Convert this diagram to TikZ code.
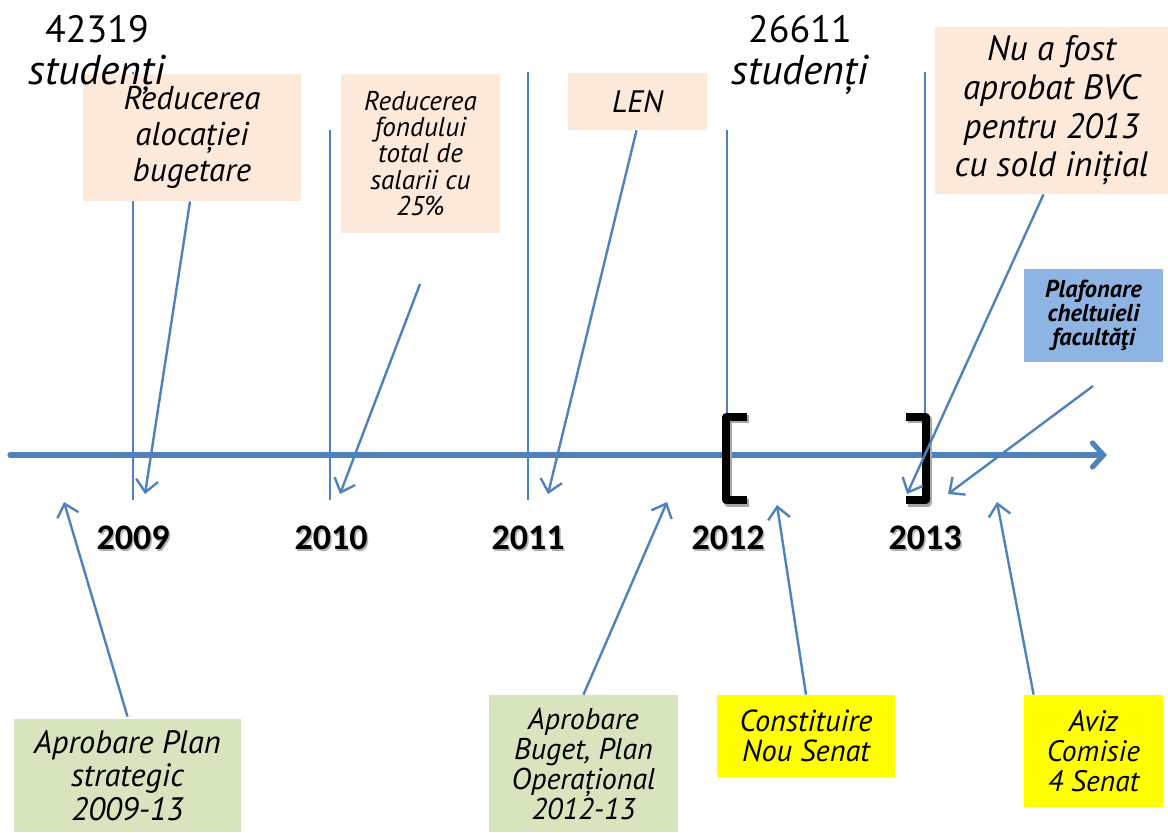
\documentclass[tikz,border=0pt]{standalone}
\usepackage{fontspec}
\setmainfont{PT Sans}
\newfontfamily\yearfont{Carlito}
\usetikzlibrary{arrows.meta,calc}
\definecolor{axisblue}{HTML}{4F81BD}
\definecolor{peach}{HTML}{FDE9D9}
\definecolor{sage}{HTML}{D7E4BD}
\definecolor{skyb}{HTML}{8EB4E3}
\definecolor{yel}{HTML}{FFFF00}
\tikzset{
  box/.style={inner sep=0pt, align=center},
  fz/.style n args={2}{font=\itshape\fontsize{#1}{#2}\selectfont},
  tick/.style={draw=axisblue, line width=1pt},
  conn/.style={draw=axisblue, line width=1.2pt, -{Straight Barb[length=6pt,width=11pt]}},
  yearlbl/.style={font=\yearfont\bfseries\fontsize{18}{20}\selectfont, inner sep=0pt},
  bracketpath/.style={line width=3.6pt, line cap=butt, line join=round},
}
\begin{document}
\begin{tikzpicture}[x=0.5pt,y=-0.5pt]
\useasboundingbox (0,0) rectangle (1168,832);
% vertical ticks
\draw[tick] (133,72) -- (133,500);
\draw[tick] (330,130) -- (330,500);
\draw[tick] (528,72) -- (528,500);
\draw[tick] (727,130) -- (727,415);
\draw[tick] (925,72) -- (925,417);
% main axis
\draw[axisblue, line width=2.6pt, line cap=round, -{Straight Barb[length=5.5pt,width=12pt,line cap=round]}] (10,455) -- (1107,455);
% brackets with shadow
\draw[gray!70, bracketpath] (749,419) -- (728,419) -- (728,503) -- (749,503);
\draw[black, bracketpath] (747,417) -- (726,417) -- (726,500) -- (747,500);
\draw[gray!70, bracketpath] (908,419) -- (928,419) -- (928,503) -- (908,503);
\draw[black, bracketpath] (906,417) -- (926,417) -- (926,500) -- (906,500);
% year labels
\foreach \x/\yr in {133/2009,331/2010,528/2011,728/2012,925/2013}{
  \node[yearlbl, text=gray!60] at (\x+1.5,539.5) {\yr};
  \node[yearlbl] (y\yr) at (\x,538) {\yr};
}
% top boxes
\node[box, fill=peach, minimum width=109pt, minimum height=63.5pt, fz={16.5}{18}] (b1) at (192,137.5) {Reducerea\\alocației\\bugetare};
\node[box, fill=peach, minimum width=79.5pt, minimum height=79.5pt, fz={13.6}{13.2}] (b2) at (420.5,153.5) {Reducerea\\fondului\\total de\\salarii cu\\25\%};
\node[box, fill=peach, minimum width=69.5pt, minimum height=28.5pt, fz={15.5}{18}] (len) at (637.5,101.5) {LEN};
\node[box, fill=peach, minimum width=116.5pt, minimum height=83.5pt, fz={17.6}{19.4}] (bvc) at (1051.5,110.5) {Nu a fost\\aprobat BVC\\pentru 2013\\cu sold inițial};
\node[box, fill=skyb, minimum width=69.5pt, minimum height=46.5pt, font=\bfseries\itshape\fontsize{12.2}{12}\selectfont] (plaf) at (1093.5,315.5) {Plafonare\\cheltuieli\\facultăţi};
% student counts
\node[font=\fontsize{19}{22}\selectfont, inner sep=0pt] (n1) at (97,29) {42319};
\node[font=\itshape\fontsize{20.8}{22}\selectfont, inner sep=0pt] (s1) at (97,75) {studenți};
\node[font=\fontsize{19}{22}\selectfont, inner sep=0pt] (n2) at (800,29) {26611};
\node[font=\itshape\fontsize{20.8}{22}\selectfont, inner sep=0pt] (s2) at (800,75) {studenți};
% bottom boxes
\node[box, fill=sage, minimum width=113.5pt, minimum height=56.5pt, fz={16.2}{16.8}] (ps) at (127.5,775.5) {Aprobare Plan\\strategic\\2009-13};
\node[box, fill=sage, minimum width=94.5pt, minimum height=68.5pt, fz={15}{15}] (bug) at (583.5,763.5) {Aprobare\\Buget, Plan\\Operațional\\2012-13};
\node[box, fill=yel, minimum width=89pt, minimum height=41pt, fz={15.2}{15}] (cns) at (806,736) {Constituire\\Nou Senat};
\node[box, fill=yel, minimum width=69.5pt, minimum height=56pt, fz={14.8}{15}] (aviz) at (1093.5,751) {Aviz\\Comisie\\4 Senat};
% free ends
\coordinate (t1) at (145,494);
\coordinate (s2a) at (420,284);
\coordinate (t2) at (340,494);
\coordinate (t3) at (548,494);
\coordinate (t4) at (907,494);
\coordinate (s5) at (1093,386);
\coordinate (t5) at (948,494);
\coordinate (t6) at (64,502);
\coordinate (t7) at (667,502);
\coordinate (t8) at (777,505);
\coordinate (t9) at (997,502);
% connectors
\draw[conn] ($(b1.south)+(-2,0)$) -- (t1);
\draw[conn] (s2a) -- (t2);
\draw[conn] ($(len.south)+(-1,0)$) -- (t3);
\draw[conn] ($(bvc.south)+(-8,0)$) -- (t4);
\draw[conn] (s5) -- (t5);
\draw[conn] ($(ps.north)+(0,-2)$) -- (t6);
\draw[conn] (bug.north) -- (t7);
\draw[conn] (cns.north) -- (t8);
\draw[conn] ($(aviz.north west)+(10,0)$) -- (t9);
\end{tikzpicture}
\end{document}
